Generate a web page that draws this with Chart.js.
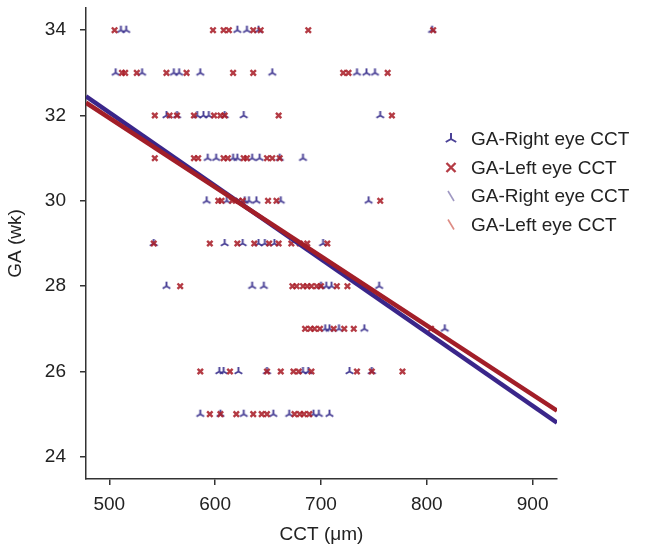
<!DOCTYPE html>
<html><head><meta charset="utf-8">
<script src="https://cdn.jsdelivr.net/npm/chart.js@4/dist/chart.umd.min.js"></script>
<style>html,body{margin:0;padding:0;background:#fff}</style>
</head><body>
<canvas id="c" width="647" height="552"></canvas>
<script>
'use strict';
// right eye (blue tri markers): CCT and matching GA
const rightCCT=[511,516,621,630,641,805, 506,531,561,566,586,654,734,743,751, 554,564,583,589,594,609,627,756, 593,601,617,621,635,642,661,683, 592,611,628,632,639,662,745, 542,609,626,641,647,656,702, 554,635,646,700,705,710,755, 704,708,717,741,817, 604,608,622,649,683,688,727,748, 586,605,627,655,670,693,698,708];
const rightGA =[34,34,34,34,34,34, 33,33,33,33,33,33,33,33,33, 32,32,32,32,32,32,32,32, 31,31,31,31,31,31,31,31, 30,30,30,30,30,30,30, 29,29,29,29,29,29,29, 28,28,28,28,28,28,28, 27,27,27,27,27, 26,26,26,26,26,26,26,26, 25,25,25,25,25,25,25,25];
// left eye (red x markers)
const leftCCT=[505,598,608,613,636,643,688,806, 512,515,526,554,573,617,636,721,726,763, 543,557,564,580,599,605,609,660,767, 543,580,584,608,612,627,630,649,654,661, 603,606,616,622,626,650,658,756, 542,595,621,637,651,660,672,680,687,706, 567,673,677,683,687,691,696,700,715,725, 685,690,694,699,712,722,731,804, 586,614,649,662,674,679,691,734,748,777, 595,605,620,636,644,649,675,680,684,689];
const leftGA =[34,34,34,34,34,34,34,34, 33,33,33,33,33,33,33,33,33,33, 32,32,32,32,32,32,32,32,32, 31,31,31,31,31,31,31,31,31,31, 30,30,30,30,30,30,30,30, 29,29,29,29,29,29,29,29,29,29, 28,28,28,28,28,28,28,28,28,28, 27,27,27,27,27,27,27,27, 26,26,26,26,26,26,26,26,26,26, 25,25,25,25,25,25,25,25,25,25];
// fitted regression lines
const fitCCT=[478,923];
const rightFit=[32.45,24.80];
const leftFit=[32.30,25.08];
const xTicks=[500,600,700,800,900];
const yTicks=[24,26,28,30,32,34];

const BLUE='rgba(55,45,140,0.9)', RED='rgba(170,32,42,0.88)';
const FONT="'Liberation Sans', Arial, sans-serif";

function triCanvas(arm, lw, col){
  const s=Math.ceil(arm*2+lw*2), cv=document.createElement('canvas'); cv.width=s; cv.height=s;
  const c=cv.getContext('2d'), m=s/2;
  c.strokeStyle=col; c.lineWidth=lw; c.lineCap='butt';
  c.beginPath();
  c.moveTo(m,m); c.lineTo(m,m-arm);
  c.moveTo(m,m); c.lineTo(m-arm*0.87,m+arm*0.5);
  c.moveTo(m,m); c.lineTo(m+arm*0.87,m+arm*0.5);
  c.stroke();
  return cv;
}
const zip=(xs,ys)=>xs.map((x,i)=>({x,y:ys[i]}));

const legendBox={id:'legendBox', afterDraw(ch){
  const ctx=ch.ctx, x0=451, tx=471, y0=139, dy=28.5;
  ctx.save(); ctx.font='19px '+FONT; ctx.fillStyle='#222'; ctx.textBaseline='middle';
  ch.data.datasets.forEach((d,i)=>{
    const y=y0+i*dy;
    if(d.kind==='tri'){ const t=triCanvas(6,2,BLUE); ctx.drawImage(t,x0-t.width/2,y-t.height/2); }
    else if(d.kind==='x'){ ctx.strokeStyle=RED; ctx.lineWidth=2.4; ctx.beginPath(); ctx.moveTo(x0-4.5,y-4.5); ctx.lineTo(x0+4.5,y+4.5); ctx.moveTo(x0+4.5,y-4.5); ctx.lineTo(x0-4.5,y+4.5); ctx.stroke(); }
    else { ctx.strokeStyle=d.kind==='lb'?'rgba(120,110,170,0.7)':'rgba(210,100,90,0.75)'; ctx.lineWidth=1.6; ctx.beginPath(); ctx.moveTo(x0-3,y-5); ctx.lineTo(x0+3,y+5); ctx.stroke(); }
    ctx.fillText(d.label, tx, y+1);
  });
  ctx.restore();
}};

new Chart(document.getElementById('c'),{
  type:'scatter',
  data:{datasets:[
    {label:'GA-Right eye CCT',kind:'tri',data:zip(rightCCT,rightGA),pointStyle:triCanvas(4.4,1.9,BLUE),pointRadius:4,order:3},
    {label:'GA-Left eye CCT',kind:'x',data:zip(leftCCT,leftGA),pointStyle:'crossRot',pointRadius:3.8,borderWidth:2.4,borderColor:RED,backgroundColor:RED,order:2},
    {label:'GA-Right eye CCT',kind:'lb',type:'line',data:zip(fitCCT,rightFit),borderColor:'rgb(58,38,138)',borderWidth:4.5,pointRadius:0,order:1},
    {label:'GA-Left eye CCT',kind:'lr',type:'line',data:zip(fitCCT,leftFit),borderColor:'rgb(162,30,40)',borderWidth:4.5,pointRadius:0,order:0}
  ]},
  options:{responsive:false,animation:false,
    layout:{padding:{top:8,right:90,left:0,bottom:0}},
    plugins:{legend:{display:false},tooltip:{enabled:false}},
    scales:{
      x:{type:'linear',min:478,max:923,
        afterFit(s){s.height=73; s.paddingLeft=0; s.paddingRight=0;},
        afterBuildTicks(s){s.ticks=xTicks.map(v=>({value:v}));},
        grid:{drawOnChartArea:false,drawTicks:true,tickLength:6,color:'#333',lineWidth:1.5},
        border:{color:'#333',width:1.5},
        ticks:{font:{size:19,family:FONT},color:'#222',padding:8,maxRotation:0},
        title:{display:true,text:'CCT (μm)',font:{size:19,family:FONT},color:'#222',padding:{top:0,bottom:6}}},
      y:{type:'linear',min:23.48,max:34.52,
        afterFit(s){s.width=86; s.paddingTop=0; s.paddingBottom=0;},
        afterBuildTicks(s){s.ticks=yTicks.map(v=>({value:v}));},
        grid:{drawOnChartArea:false,drawTicks:true,tickLength:6,color:'#333',lineWidth:1.5},
        border:{color:'#333',width:1.5},
        ticks:{font:{size:19,family:FONT},color:'#222',padding:14},
        title:{display:true,text:'GA (wk)',font:{size:19,family:FONT},color:'#222',padding:{top:4,bottom:0}}}
    }},
  plugins:[legendBox]
});
</script>
</body></html>
